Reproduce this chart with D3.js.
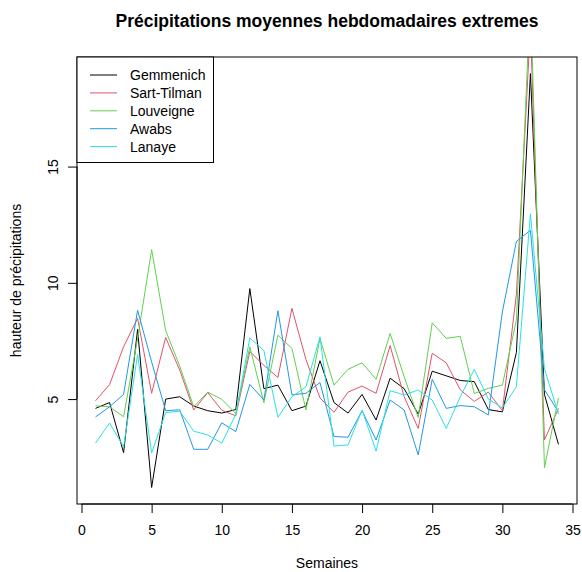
<!DOCTYPE html>
<html>
<head>
<meta charset="utf-8">
<script src="https://cdn.jsdelivr.net/npm/d3@7"></script>
<style>
  body { margin: 0; background: #fff; }
  svg { display: block; }
  text { font-family: "Liberation Sans", Arial, Helvetica, sans-serif; fill: #000; }
</style>
</head>
<body>
<svg id="chart" width="582" height="572"></svg>
<script>
// Weekly extreme precipitation, one series per station
const weeks = [1,2,3,4,5,6,7,8,9,10,11,12,13,14,15,16,17,18,19,20,21,22,23,24,25,26,27,28,29,30,31,32,33,34];

const gemmenich = [4.6, 4.85, 2.7, 8.0, 1.2, 5.0, 5.1, 4.7, 4.5, 4.4, 4.55, 9.75, 5.45, 5.6, 4.5, 4.7, 6.65,
                   4.85, 4.4, 5.2, 4.1, 5.9, 5.45, 4.35, 6.2, 6.0, 5.8, 5.75, 4.55, 4.45, 7.0, 19.0, 5.2, 3.05];
const sartTilman = [4.93, 5.62, 7.25, 8.47, 5.25, 7.65, 6.25, 4.53, 5.28, 4.52, 4.28, 7.05, 6.45, 5.93, 8.9, 6.7, 5.05,
                    4.43, 5.3, 5.56, 5.25, 7.3, 5.1, 3.74, 6.97, 6.56, 5.4, 4.9, 5.3, 4.5, 9.5, 21.0, 3.24, 4.6];
const louveigne = [4.71, 4.67, 4.24, 7.6, 11.43, 7.95, 6.42, 4.67, 5.3, 4.99, 4.38, 7.25, 4.84, 7.75, 7.18, 4.53, 7.61,
                   5.6, 6.28, 6.56, 5.85, 7.82, 5.96, 4.21, 8.28, 7.61, 7.7, 5.24, 5.46, 5.6, 8.4, 22.4, 2.05, 5.05];
const awabs = [4.23, 4.67, 5.2, 8.82, 6.6, 4.5, 4.54, 2.84, 2.84, 3.98, 3.6, 5.63, 4.96, 8.8, 5.18, 5.25, 5.71,
               3.39, 3.36, 4.5, 3.24, 4.96, 4.53, 2.6, 5.85, 4.6, 4.72, 4.67, 4.32, 8.75, 11.78, 12.26, 5.4, 4.45];
const lanaye = [3.11, 3.97, 2.95, 6.92, 2.68, 4.42, 4.48, 3.62, 3.46, 3.1, 4.35, 7.63, 7.09, 4.22, 5.1, 5.53, 7.68,
                2.98, 3.03, 4.53, 2.76, 5.36, 5.18, 5.39, 4.96, 3.74, 5.1, 6.28, 5.0, 4.62, 5.53, 12.97, 6.3, 4.35];

const stations = ["Gemmenich", "Sart-Tilman", "Louveigne", "Awabs", "Lanaye"];
const colors = ["#000000", "#DF536B", "#61D04F", "#2297E6", "#28E2E5"];
const seriesValues = [gemmenich, sartTilman, louveigne, awabs, lanaye];

const xTicks = [0, 5, 10, 15, 20, 25, 30, 35];
const yTicks = [5, 10, 15];

const chartTitle = "Précipitations moyennes hebdomadaires extremes";
const xTitle = "Semaines";
const yTitle = "hauteur de précipitations";

// Plot region
const plot = { left: 77, right: 577, top: 57, bottom: 504 };

// Axis ranges padded by 4% on each side; the y range follows the first station
function padded([a, b]) {
  const d = (b - a) * 0.04;
  return [a - d, b + d];
}

const x = d3.scaleLinear().domain(padded(d3.extent(weeks))).range([plot.left, plot.right]);
const y = d3.scaleLinear().domain(padded(d3.extent(gemmenich))).range([plot.bottom, plot.top]);

const svg = d3.select("#chart");

svg.append("defs").append("clipPath").attr("id", "plotClip")
  .append("rect")
  .attr("x", plot.left).attr("y", plot.top)
  .attr("width", plot.right - plot.left).attr("height", plot.bottom - plot.top);

// Series lines
const line = d3.line().x((d, i) => x(weeks[i])).y(d => y(d));
const linesG = svg.append("g").attr("clip-path", "url(#plotClip)");
seriesValues.forEach((vals, k) => {
  linesG.append("path")
    .datum(vals)
    .attr("d", line)
    .attr("fill", "none")
    .attr("stroke", colors[k])
    .attr("stroke-width", 1);
});

// Frame around the plot region
svg.append("rect")
  .attr("x", plot.left).attr("y", plot.top)
  .attr("width", plot.right - plot.left).attr("height", plot.bottom - plot.top)
  .attr("fill", "none").attr("stroke", "#000").attr("stroke-width", 1);

// X axis
const xAxis = d3.axisBottom(x).tickValues(xTicks).tickSize(9).tickPadding(12).tickFormat(d3.format("d"));
const gx = svg.append("g").attr("transform", `translate(0,${plot.bottom})`).call(xAxis);
gx.select(".domain").attr("d", `M${x(xTicks[0])},0H${x(xTicks[xTicks.length - 1])}`).attr("stroke", "#000");
gx.selectAll(".tick line").attr("stroke", "#000");
gx.selectAll(".tick text").attr("font-size", 14).attr("font-family", "Liberation Sans, Arial, sans-serif").attr("fill", "#000");

// Y axis with labels parallel to the axis
const yAxis = d3.axisLeft(y).tickValues(yTicks).tickSize(9).tickFormat(d3.format("d"));
const gy = svg.append("g").attr("transform", `translate(${plot.left},0)`).call(yAxis);
gy.select(".domain").attr("d", `M0,${y(yTicks[0])}V${y(yTicks[yTicks.length - 1])}`).attr("stroke", "#000");
gy.selectAll(".tick line").attr("stroke", "#000");
gy.selectAll(".tick text")
  .attr("font-size", 14).attr("font-family", "Liberation Sans, Arial, sans-serif").attr("fill", "#000")
  .attr("x", null).attr("dy", null)
  .attr("text-anchor", "middle")
  .attr("transform", "translate(-19,0) rotate(-90)");

// Titles
svg.append("text")
  .attr("x", (plot.left + plot.right) / 2).attr("y", 27)
  .attr("text-anchor", "middle").attr("font-size", 17.5).attr("font-weight", "bold")
  .text(chartTitle);

svg.append("text")
  .attr("x", (plot.left + plot.right) / 2).attr("y", 568)
  .attr("text-anchor", "middle").attr("font-size", 14)
  .text(xTitle);

svg.append("text")
  .attr("transform", `translate(21,${(plot.top + plot.bottom) / 2}) rotate(-90)`)
  .attr("text-anchor", "middle").attr("font-size", 14)
  .text(yTitle);

// Legend
const legend = svg.append("g");
legend.append("rect")
  .attr("x", plot.left).attr("y", plot.top)
  .attr("width", 136.5).attr("height", 105.5)
  .attr("fill", "#fff").attr("stroke", "#000").attr("stroke-width", 1);
stations.forEach((name, k) => {
  const cy = 75 + k * 17.9;
  legend.append("line")
    .attr("x1", 90).attr("x2", 117).attr("y1", cy).attr("y2", cy)
    .attr("stroke", colors[k]).attr("stroke-width", 1);
  legend.append("text")
    .attr("x", 130).attr("y", cy + 5)
    .attr("font-size", 14)
    .text(name);
});
</script>
</body>
</html>
